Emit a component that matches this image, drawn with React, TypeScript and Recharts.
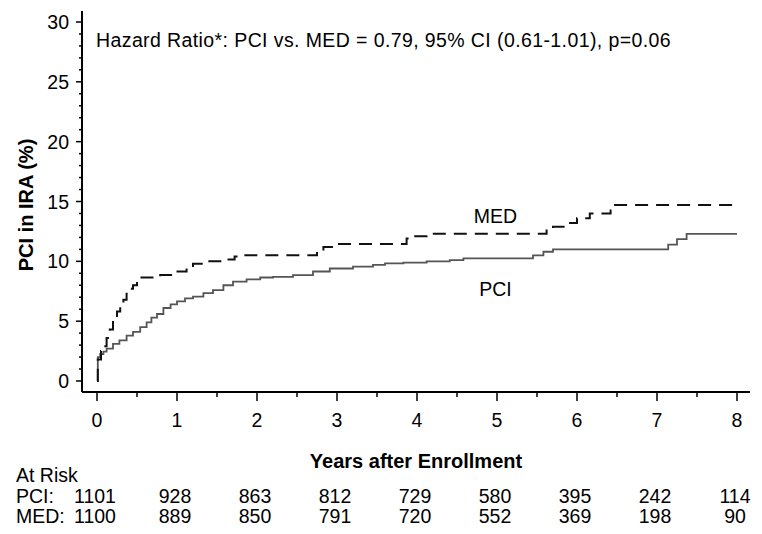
import React from 'react';
import {
  ComposedChart,
  Line,
  XAxis,
  YAxis,
  ReferenceDot,
  Label,
} from 'recharts';

// Kaplan-Meier style cumulative incidence.
const pciTimes = [0, 0.01, 0.04, 0.08, 0.12, 0.2, 0.28, 0.37, 0.45, 0.54, 0.62, 0.68, 0.75, 0.83, 0.92, 1.0, 1.1, 1.2, 1.33, 1.45, 1.58, 1.7, 1.87, 2.04, 2.2, 2.45, 2.7, 2.91, 3.2, 3.45, 3.6, 3.83, 4.12, 4.41, 4.58, 5.45, 5.58, 5.7, 7.14, 7.25, 7.37, 8.0];
const pciRates = [0, 2.0, 2.25, 2.45, 2.7, 3.1, 3.4, 3.8, 4.1, 4.5, 4.9, 5.3, 5.6, 6.1, 6.4, 6.65, 6.9, 7.05, 7.35, 7.6, 8.0, 8.3, 8.5, 8.65, 8.7, 8.85, 9.15, 9.4, 9.55, 9.7, 9.83, 9.9, 10.0, 10.1, 10.25, 10.5, 10.8, 11.0, 11.4, 11.85, 12.3, 12.3];

const medTimes = [0, 0.01, 0.05, 0.08, 0.12, 0.16, 0.2, 0.25, 0.29, 0.33, 0.37, 0.41, 0.45, 0.5, 0.54, 0.79, 0.95, 1.12, 1.2, 1.37, 1.62, 1.72, 1.83, 2.75, 2.83, 2.95, 3.87, 3.91, 4.12, 5.62, 5.7, 5.85, 6.0, 6.16, 6.42, 6.44, 8.0];
const medRates = [0, 1.8, 2.5, 2.9, 3.6, 4.3, 5.3, 5.8, 6.2, 6.8, 7.3, 7.7, 8.0, 8.4, 8.65, 8.85, 9.15, 9.4, 9.8, 10.0, 10.15, 10.4, 10.5, 10.8, 11.2, 11.45, 11.9, 12.1, 12.3, 12.7, 12.9, 13.2, 13.6, 14.0, 14.4, 14.7, 14.7];

const xTicks = [0, 0.5, 1, 1.5, 2, 2.5, 3, 3.5, 4, 4.5, 5, 5.5, 6, 6.5, 7, 7.5, 8];
const yTicks = [0, 1, 2, 3, 4, 5, 6, 7, 8, 9, 10, 11, 12, 13, 14, 15, 16, 17, 18, 19, 20, 21, 22, 23, 24, 25, 26, 27, 28, 29, 30];

const atRiskYears = [0, 1, 2, 3, 4, 5, 6, 7, 8];
const atRiskPci = [1101, 928, 863, 812, 729, 580, 395, 242, 114];
const atRiskMed = [1100, 889, 850, 791, 720, 552, 369, 198, 90];

const pciData = pciTimes.map((t, i) => ({ t, y: pciRates[i] }));
const medData = medTimes.map((t, i) => ({ t, y: medRates[i] }));

const FONT = "Arial, 'Liberation Sans', sans-serif";
const X_DOMAIN: [number, number] = [-0.1875, 8.1625];
const Y_DOMAIN: [number, number] = [-0.919, 30.919];

function XTick({ x, y, payload }: any) {
  const v = payload.value;
  const major = Number.isInteger(v);
  const i = atRiskYears.indexOf(v);
  return (
    <g>
      <line x1={x} x2={x} y1={y} y2={y + (major ? 9 : 5)} stroke="#000" strokeWidth={1.5} />
      {major && (
        <text x={x} y={y + 35} textAnchor="middle" fontSize={19.5} fontFamily={FONT} fill="#000">
          {v}
        </text>
      )}
      {i >= 0 && (
        <g fontSize={19.5} fontFamily={FONT} fill="#000" textAnchor="middle">
          <text x={x - 2} y={y + 111}>{atRiskPci[i]}</text>
          <text x={x - 2} y={y + 131}>{atRiskMed[i]}</text>
        </g>
      )}
    </g>
  );
}

function YTick({ x, y, payload }: any) {
  const v = payload.value;
  const major = v % 5 === 0;
  return (
    <g>
      <line x1={x - (major ? 6 : 3)} x2={x} y1={y} y2={y} stroke="#000" strokeWidth={1.5} />
      {major && (
        <text x={x - 13} y={y + 7} textAnchor="end" fontSize={19.5} fontFamily={FONT} fill="#000">
          {v}
        </text>
      )}
    </g>
  );
}

export default function App() {
  return (
    <div style={{ width: 762, height: 534, background: '#fff' }}>
      <style>{`body{margin:0;background:#fff}`}</style>
      <ComposedChart
        width={762}
        height={534}
        margin={{ top: 11, right: 12, left: 0, bottom: 0 }}
      >
        <XAxis
          xAxisId="main"
          dataKey="t"
          type="number"
          domain={X_DOMAIN}
          ticks={xTicks}
          interval={0}
          allowDataOverflow
          height={142}
          tickSize={0}
          tickMargin={0}
          tickLine={false}
          axisLine={{ stroke: '#000', strokeWidth: 2 }}
          tick={<XTick />}
        >
          <Label
            content={() => (
              <g fontFamily={FONT} fill="#000">
                <text x={416} y={468} textAnchor="middle" fontSize={20} fontWeight="bold">
                  Years after Enrollment
                </text>
                <text x={16} y={482} fontSize={19.5}>At Risk</text>
                <text x={16} y={503} fontSize={19.5}>PCI:</text>
                <text x={16} y={523} fontSize={19.5}>MED:</text>
              </g>
            )}
          />
        </XAxis>
        <XAxis
          xAxisId="top"
          orientation="top"
          type="number"
          domain={X_DOMAIN}
          height={0}
          tick={false}
          tickLine={false}
          axisLine={{ stroke: '#000', strokeWidth: 2 }}
        />
        <YAxis
          yAxisId="main"
          type="number"
          domain={Y_DOMAIN}
          ticks={yTicks}
          interval={0}
          allowDataOverflow
          width={82}
          tickSize={0}
          tickMargin={0}
          tickLine={false}
          axisLine={{ stroke: '#000', strokeWidth: 2 }}
          tick={<YTick />}
        >
          <Label
            content={() => (
              <text
                x={26}
                y={205}
                transform="rotate(-90 26 205)"
                textAnchor="middle"
                dominantBaseline="central"
                fontSize={20}
                fontWeight="bold"
                fontFamily={FONT}
                fill="#000"
              >
                PCI in IRA (%)
              </text>
            )}
          />
        </YAxis>
        <YAxis
          yAxisId="right"
          orientation="right"
          type="number"
          domain={Y_DOMAIN}
          width={0}
          tick={false}
          tickLine={false}
          axisLine={{ stroke: '#000', strokeWidth: 2 }}
        />
        <Line
          xAxisId="main"
          yAxisId="main"
          data={pciData}
          dataKey="y"
          type="stepAfter"
          stroke="#555"
          strokeWidth={1.8}
          dot={false}
          activeDot={false}
          isAnimationActive={false}
        />
        <Line
          xAxisId="main"
          yAxisId="main"
          data={medData}
          dataKey="y"
          type="stepAfter"
          stroke="#111"
          strokeWidth={2}
          strokeDasharray="13 8"
          dot={false}
          activeDot={false}
          isAnimationActive={false}
        />
        <ReferenceDot
          xAxisId="main"
          yAxisId="main"
          x={4.98}
          y={13.75}
          r={0}
          label={{ value: 'MED', position: 'center', fontSize: 19.5, fontFamily: FONT, fill: '#000' }}
        />
        <ReferenceDot
          xAxisId="main"
          yAxisId="main"
          x={4.98}
          y={7.65}
          r={0}
          label={{ value: 'PCI', position: 'center', fontSize: 19.5, fontFamily: FONT, fill: '#000' }}
        />
        <ReferenceDot
          xAxisId="main"
          yAxisId="main"
          x={-0.0125}
          y={28.5}
          r={0}
          label={{
            value: 'Hazard Ratio*: PCI vs. MED = 0.79, 95% CI (0.61-1.01), p=0.06',
            position: 'right',
            offset: 0,
            fontSize: 19.5,
            letterSpacing: 0.4,
            fontFamily: FONT,
            fill: '#000',
          }}
        />
      </ComposedChart>
    </div>
  );
}
